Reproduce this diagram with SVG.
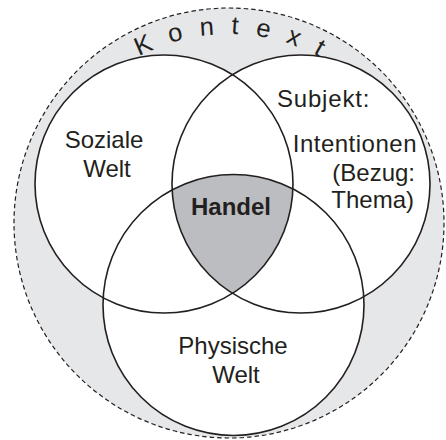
<svg xmlns="http://www.w3.org/2000/svg" xmlns:xlink="http://www.w3.org/1999/xlink" width="446" height="440" viewBox="0 0 446 440">
  <style>
    .ring { fill: #e6e7e8; stroke: #231f20; stroke-width: 1.2; stroke-dasharray: 4.5 3; }
    .area { fill: #ffffff; stroke: none; }
    .edge { fill: none; stroke: #231f20; stroke-width: 1.6; }
    .core { fill: #bcbdc0; }
    .lbl { font-family: "Liberation Sans", Arial, sans-serif; font-size: 24px; fill: #231f20; }
    .arcl { font-size: 25.5px; }
    .bold { font-weight: bold; }
  </style>
  <defs>
    <circle id="c-social" cx="164" cy="184" r="129"/>
    <circle id="c-subject" cx="301" cy="184" r="129"/>
    <circle id="c-physical" cx="233.5" cy="305" r="130.5"/>
    <clipPath id="clip-social"><use xlink:href="#c-social"/></clipPath>
    <clipPath id="clip-subject"><use xlink:href="#c-subject"/></clipPath>
    <path id="arc-context" d="M 40,223 A 189 189 0 0 1 418,223"/>
  </defs>

  <!-- surrounding context -->
  <g id="context">
    <circle class="ring" cx="229" cy="223" r="215"/>
    <text class="lbl arcl" letter-spacing="16.8"><textPath xlink:href="#arc-context" startOffset="203">Kontext</textPath></text>
  </g>

  <!-- white interiors of the three worlds -->
  <g id="fills">
    <use xlink:href="#c-social" class="area"/>
    <use xlink:href="#c-subject" class="area"/>
    <use xlink:href="#c-physical" class="area"/>
  </g>

  <!-- common intersection: the action -->
  <g id="action">
    <g clip-path="url(#clip-social)">
      <g clip-path="url(#clip-subject)">
        <use xlink:href="#c-physical" class="core"/>
      </g>
    </g>
    <text class="lbl bold" x="231" y="215" text-anchor="middle">Handel</text>
  </g>

  <g id="social">
    <use xlink:href="#c-social" class="edge"/>
    <text class="lbl" x="104" y="148" text-anchor="middle">Soziale</text>
    <text class="lbl" x="107" y="177" text-anchor="middle">Welt</text>
  </g>

  <g id="subject">
    <use xlink:href="#c-subject" class="edge"/>
    <text class="lbl" x="277" y="107" letter-spacing="0.8">Subjekt:</text>
    <text class="lbl" x="417" y="152" text-anchor="end" letter-spacing="0.5">Intentionen</text>
    <text class="lbl" x="415" y="181" text-anchor="end">(Bezug:</text>
    <text class="lbl" x="414" y="208" text-anchor="end">Thema)</text>
  </g>

  <g id="physical">
    <use xlink:href="#c-physical" class="edge"/>
    <text class="lbl" x="233" y="354" text-anchor="middle">Physische</text>
    <text class="lbl" x="236" y="383" text-anchor="middle">Welt</text>
  </g>
</svg>
